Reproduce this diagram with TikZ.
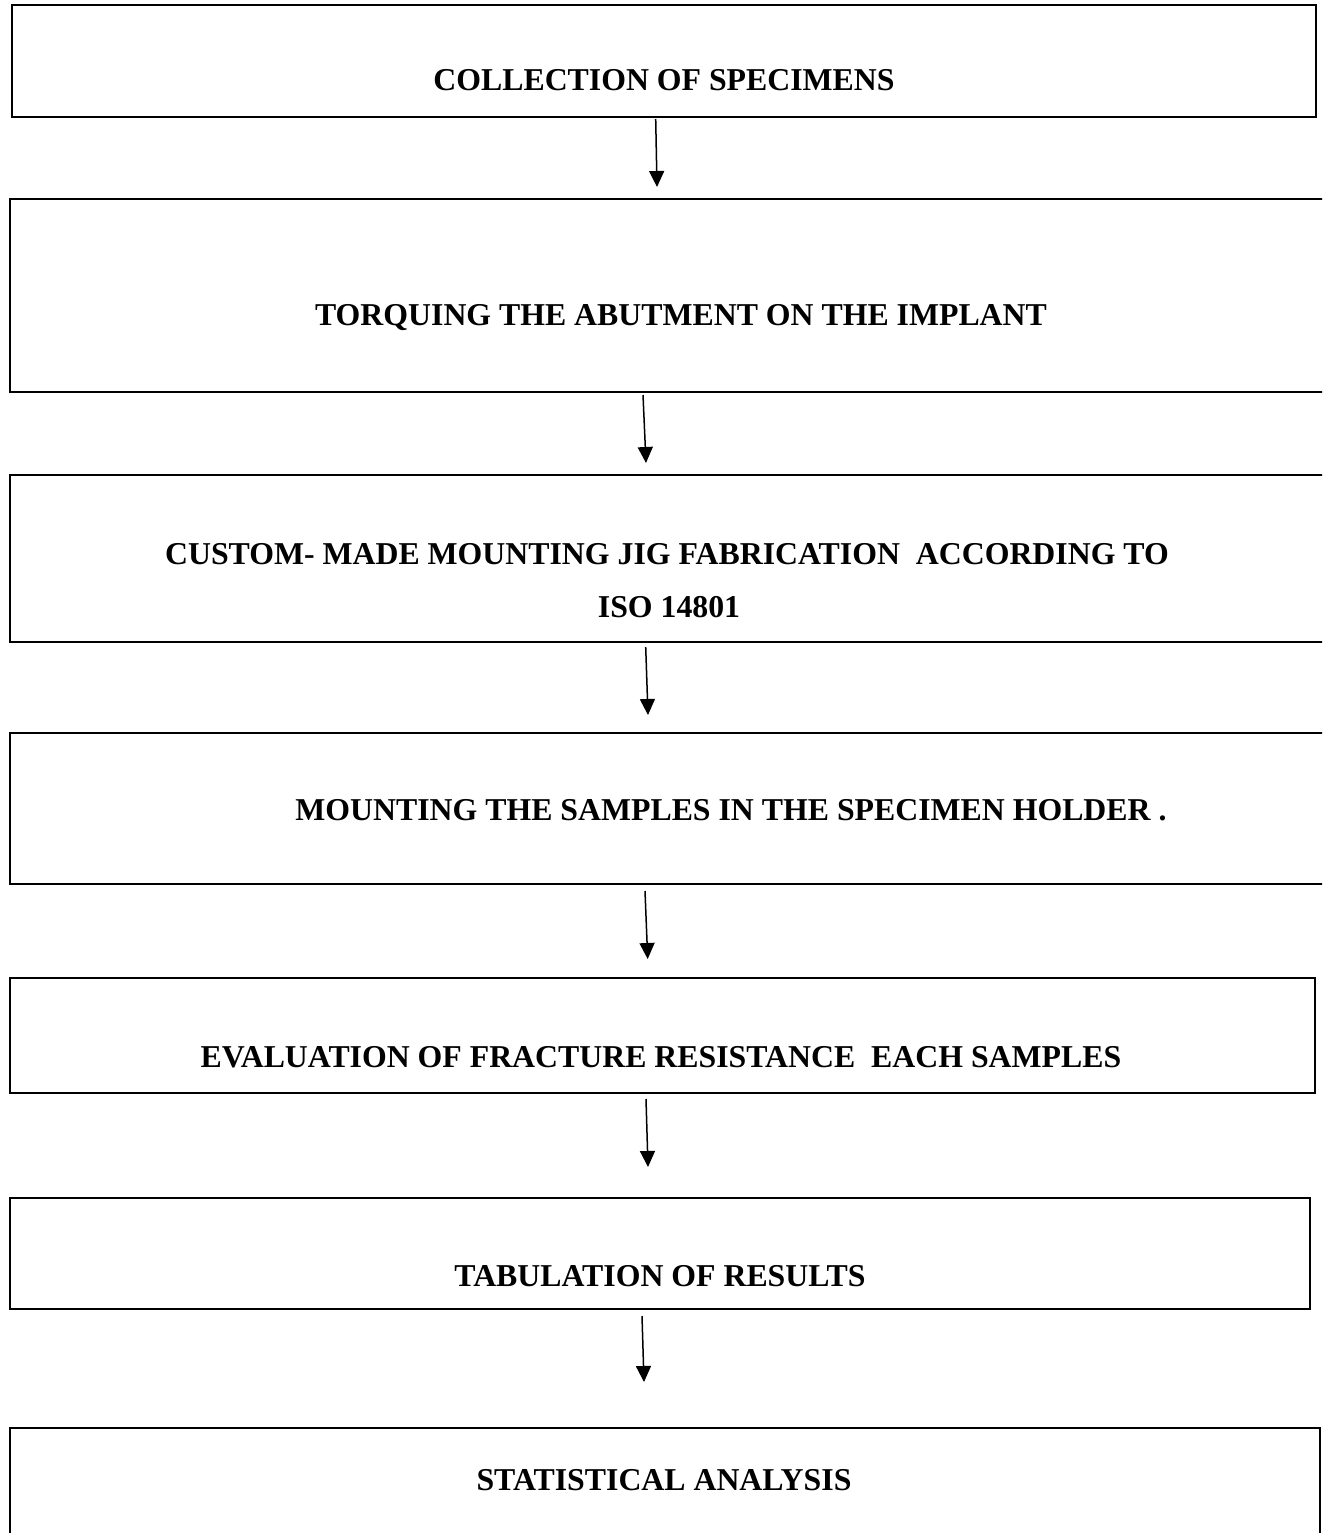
\documentclass[tikz,border=0pt]{standalone}
\usepackage{fontspec}
\setmainfont{Liberation Serif}
\usetikzlibrary{arrows.meta}
\tikzset{
  stepbox/.style={draw=black, line width=2.2pt, inner sep=0pt, outer sep=0pt, fill=none},
  steptext/.style={anchor=base, inner sep=0pt, font=\fontsize{31.8}{38}\selectfont\bfseries},
  flowarrow/.style={line width=1.5pt, -{Triangle[width=15pt,length=16pt]}}
}
\begin{document}
\begin{tikzpicture}[x=1pt,y=-1pt]
\clip (0,0) rectangle (1322,1533);
\useasboundingbox (0,0) rectangle (1322,1533);
\fill[white] (0,0) rectangle (1322,1533);

% boxes
\node[stepbox, minimum width=1304pt, minimum height=112pt] (b1) at (664,61) {};
\node[stepbox, minimum width=1330pt, minimum height=193pt] (b2) at (675,295.5) {};
\node[stepbox, minimum width=1330pt, minimum height=167pt] (b3) at (675,558.5) {};
\node[stepbox, minimum width=1330pt, minimum height=151pt] (b4) at (675,808.5) {};
\node[stepbox, minimum width=1305pt, minimum height=115pt] (b5) at (662.5,1035.5) {};
\node[stepbox, minimum width=1300pt, minimum height=111pt] (b6) at (660,1253.5) {};
\node[stepbox, minimum width=1310pt, minimum height=132pt] (b7) at (665,1494) {};

% texts
\node[steptext] (t1) at (664,91) {COLLECTION OF SPECIMENS};
\node[steptext] (t2) at (681,325) {TORQUING THE ABUTMENT ON THE IMPLANT};
\node[steptext] (t3a) at (667,564) {CUSTOM- MADE MOUNTING JIG FABRICATION~ ACCORDING TO};
\node[steptext] (t3b) at (669,617) {ISO 14801};
\node[steptext] (t4) at (731,820) {MOUNTING THE SAMPLES IN THE SPECIMEN HOLDER .};
\node[steptext] (t5) at (661,1067) {EVALUATION OF FRACTURE RESISTANCE~ EACH SAMPLES};
\node[steptext] (t6) at (660,1286) {TABULATION OF RESULTS};
\node[steptext] (t7) at (664,1490) {STATISTICAL ANALYSIS};

% arrow end points
\coordinate (a1s) at (655.7,119);  \coordinate (a1e) at (657,187);
\coordinate (a2s) at (643,395);    \coordinate (a2e) at (646,463);
\coordinate (a3s) at (645.7,647);  \coordinate (a3e) at (648,715);
\coordinate (a4s) at (645,891);    \coordinate (a4e) at (647.7,959);
\coordinate (a5s) at (646,1099);   \coordinate (a5e) at (648,1167);
\coordinate (a6s) at (642,1316);   \coordinate (a6e) at (644,1382);

\draw[flowarrow] (a1s) -- (a1e);
\draw[flowarrow] (a2s) -- (a2e);
\draw[flowarrow] (a3s) -- (a3e);
\draw[flowarrow] (a4s) -- (a4e);
\draw[flowarrow] (a5s) -- (a5e);
\draw[flowarrow] (a6s) -- (a6e);
\end{tikzpicture}
\end{document}
